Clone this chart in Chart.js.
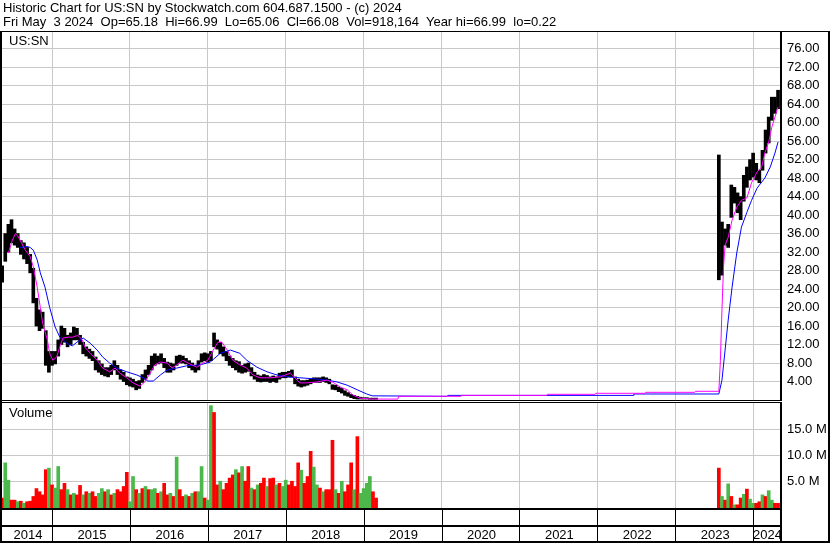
<!DOCTYPE html>
<html><head><meta charset="utf-8">
<script src="https://cdn.jsdelivr.net/npm/chart.js@4.4.1/dist/chart.umd.min.js"></script>
<style>
html,body{margin:0;padding:0;background:#fff;}
body{width:830px;height:543px;position:relative;overflow:hidden;font-family:"Liberation Sans",Arial,sans-serif;}
#hdr{position:absolute;left:3px;top:1px;font-size:13px;line-height:14px;white-space:pre;color:#000;}
#c1{position:absolute;left:0;top:0;}
#c2{position:absolute;left:0;top:400px;}
</style></head><body>
<canvas id="c1" width="830" height="402"></canvas>
<canvas id="c2" width="830" height="143"></canvas>
<div id="hdr">Historic Chart for US:SN by Stockwatch.com 604.687.1500 - (c) 2024
Fri May  3 2024  Op=65.18  Hi=66.99  Lo=65.06  Cl=66.08  Vol=918,164  Year hi=66.99  lo=0.22</div>
<script>
const FONT = '"Liberation Sans", Arial, sans-serif';
const symbol = 'US:SN';
const yearTicks = [2015, 2016, 2017, 2018, 2019, 2020, 2021, 2022, 2023, 2024];
const yearLabels = ['2014','2015','2016','2017','2018','2019','2020','2021','2022','2023','2024'];
const xMin = 2014.358, xMax = 2024.345;
const priceTicks = [4,8,12,16,20,24,28,32,36,40,44,48,52,56,60,64,68,72,76];
const volTicks = [5,10,15];

const priceDates = [
 2014.36,2014.40,2014.44,2014.48,2014.52,2014.56,2014.60,2014.64,2014.68,2014.72,
 2014.76,2014.80,2014.84,2014.88,2014.92,2014.96,2015.00,2015.04,2015.08,2015.12,
 2015.16,2015.20,2015.24,2015.28,2015.32,2015.36,2015.40,2015.44,2015.48,2015.52,
 2015.56,2015.60,2015.64,2015.68,2015.72,2015.76,2015.80,2015.84,2015.88,2015.92,
 2015.96,2016.00,2016.04,2016.08,2016.12,2016.16,2016.20,2016.24,2016.28,2016.32,
 2016.36,2016.40,2016.44,2016.48,2016.52,2016.56,2016.60,2016.64,2016.68,2016.72,
 2016.76,2016.80,2016.84,2016.88,2016.92,2016.96,2017.00,2017.04,2017.08,2017.12,
 2017.16,2017.20,2017.24,2017.28,2017.32,2017.36,2017.40,2017.44,2017.48,2017.52,
 2017.56,2017.60,2017.64,2017.68,2017.72,2017.76,2017.80,2017.84,2017.88,2017.92,
 2017.96,2018.00,2018.04,2018.08,2018.12,2018.16,2018.20,2018.24,2018.28,2018.32,
 2018.36,2018.40,2018.44,2018.48,2018.52,2018.56,2018.60,2018.64,2018.68,2018.72,
 2018.76,2018.80,2018.84,2018.88,2018.92,2018.96,2019.00,2019.04,2019.08,2019.12,
 2019.16,
 2023.56,2023.60,2023.64,2023.68,2023.72,2023.76,2023.80,2023.84,2023.88,2023.92,
 2023.96,2024.00,2024.04,2024.08,2024.12,2024.16,2024.20,2024.24,2024.28,2024.32];
const priceHigh = [
 29,36,38,39,37,36,34.5,34,33,31.5,
 28.5,22,19.5,19,15,10.5,10.5,10.5,13,16,
 15.5,14,14.5,15.8,15.5,14,12.5,11.5,11,10.5,
 9.3,8.5,7.8,7,7,7.5,8.5,7.5,6.5,6,
 5,4.8,4.5,4,4.2,5.5,6.5,7.5,9.5,10,
 9.5,10,9,8.2,8,7.8,9.5,9.7,9.5,9,
 8.5,8,7.5,8.5,10,10.2,10,10.5,14.5,13,
 12.5,11.5,10.5,9.5,9,8.5,8.3,7.5,7.8,8,
 7,6,5.4,5.2,5.5,5.3,5,5.2,5,5.8,
 6,6,6.2,6.5,5,4.5,4.2,4.2,4.3,4.5,
 4.8,4.8,4.8,5,4.8,4.5,3.3,3.2,2.8,2.5,
 2,1.6,1.2,1,0.8,0.6,0.5,0.5,0.4,0.4,
 0.4,
 53,38.5,37,38,46.5,46,44.8,44,48.6,50.4,
 52,53.4,51.2,49.7,54,58.4,61.2,65.5,65.5,67];
const priceLow = [
 25.5,30,32,34,33.5,33,31.5,30.5,29.5,27.5,
 21,16,15,15.5,7.5,6,7.5,7.8,9.5,12,
 12.5,11.5,12,13,13,12,10,9.5,9,8.5,
 6.5,6,5.5,5.2,5,5.5,6.5,5.5,4.5,4,
 3.3,3,2.8,2.2,2.5,3.8,4.5,5.5,6.5,7.5,
 7.8,8,7,6,6,6.5,7.5,8,8,7.8,
 7,6.5,6,6.5,8.2,8.5,8.2,8.5,11.5,11,
 10,9.5,8.5,7.5,7,6.5,6,5.8,6,6.2,
 5.2,4.5,4,3.9,4,4,3.8,4,3.8,4.5,
 4.8,4.8,5,5,3.5,3,2.8,3,3.2,3.5,
 3.8,3.8,3.8,4,3.8,3.5,2.3,2.2,1.8,1.5,
 1,0.8,0.5,0.3,0.2,0.2,0.2,0.2,0.15,0.15,
 0.15,
 26,27,33.5,33,39.5,42.6,40.5,39,43,46,
 47.6,48.2,47.6,47,49.7,53.4,55.6,60.5,62,63];

const maFastDates = [2014.44,2014.49,2014.53,2014.56,2014.59,2014.65,2014.72,2014.76,2014.81,2014.85,
 2014.88,2014.94,2014.97,2015.01,2015.06,2015.10,2015.14,2015.21,2015.27,2015.33,
 2015.39,2015.42,2015.49,2015.58,2015.65,2015.74,2015.81,2015.87,2015.96,2016.04,
 2016.13,2016.19,2016.26,2016.32,2016.39,2016.48,2016.54,2016.60,2016.68,2016.77,
 2016.86,2016.94,2017.00,2017.07,2017.13,2017.18,2017.25,2017.32,2017.41,2017.50,
 2017.58,2017.67,2017.80,2017.93,2018.06,2018.12,2018.18,2018.27,2018.40,2018.53,
 2018.61,2018.70,2018.79,2018.86,2018.95,2019.11,2019.44,2019.45,2020.24,2020.25,
 2021.35,2021.36,2021.97,2021.98,2022.61,2022.62,2023.25,2023.26,2023.56,2023.58,
 2023.60,2023.62,2023.64,2023.68,2023.73,2023.79,2023.85,2023.92,2023.98,2024.05,
 2024.11,2024.15,2024.20,2024.24,2024.28,2024.32];
const maFast = [31.8,34.5,36,35.5,34.6,32.6,31,28.8,24.4,20,
 16.6,13,10.1,8.6,9.3,11.5,13.4,13.6,13.6,14,
 13,11.5,10.1,8.6,6.9,6.1,6.9,5.8,4.8,3.7,
 3.0,3.9,5.8,7.6,8.2,8,6.9,7.6,8.6,7.8,
 7.1,8,8.6,10.8,12.5,12.5,10.8,8.6,7.6,6.9,
 5.4,4.8,4.8,5,5.8,4.8,3.7,3.7,3.9,4.3,
 3.8,2.8,2.2,1.1,0.4,0.2,0.2,0.8,0.8,1.0,
 1.0,1.23,1.23,1.45,1.45,1.66,1.66,1.88,1.88,8.6,
 19.5,28.8,33.5,35.2,38.9,41.7,43.2,43.7,47,49.3,
 50.4,53.4,55.8,59,61.2,63.4];

const maSlowDates = [2014.59,2014.68,2014.72,2014.76,2014.81,2014.85,2014.91,2014.97,2015.04,2015.10,
 2015.19,2015.26,2015.32,2015.40,2015.49,2015.58,2015.65,2015.74,2015.83,2015.96,
 2016.09,2016.17,2016.23,2016.30,2016.39,2016.48,2016.60,2016.73,2016.90,2017.03,
 2017.16,2017.29,2017.41,2017.50,2017.63,2017.76,2017.89,2018.02,2018.18,2018.35,
 2018.53,2018.66,2018.79,2018.92,2019.04,2019.11,2020.07,2020.08,2022.46,2022.47,
 2023.56,2023.60,2023.64,2023.68,2023.73,2023.79,2023.85,2023.92,2023.98,2024.05,
 2024.09,2024.15,2024.22,2024.28,2024.32];
const maSlow = [33,33.2,33,32.4,30.3,27.5,24.4,20,15.8,13.6,
 12.3,11.7,12.5,13.4,12.3,10.8,9.3,8,6.9,6.1,
 5.4,4.8,4.1,4.1,5.4,6.5,6.9,7.4,7.6,8.2,
 10.1,10.8,10.1,8.6,7.1,6.1,5.4,5,4.8,4.6,
 4.3,3.9,3.2,2.2,1.3,0.9,0.8,1.0,1.0,1.3,
 1.3,4.3,10.8,17.3,24.4,31.8,37.4,40.6,43.2,45.8,
 46.7,48,50.4,53.4,55.8];

const volDates = priceDates;
const volume = [
 1.9,8.6,5.3,1.5,1.5,1.2,1.3,0.9,1.2,1.3,
 2.2,3.7,3.1,2.5,7.3,7.6,4.4,3.8,7.9,3.5,
 4.7,3.5,2.5,2.8,2.5,4.3,2.5,3.1,2.8,3.1,
 2.2,2.8,3.7,3.1,3.5,2.5,2.8,3.5,3.1,4.1,
 6.8,1.2,6.0,3.5,2.8,3.7,4.1,3.5,3.5,3.7,
 2.8,3.1,4.7,2.5,2.8,2.2,9.7,3.5,2.2,2.5,
 2.2,2.8,3.1,3.1,7.9,1.9,1.5,19.5,18.2,4.4,
 5.1,3.5,4.7,5.7,6.3,7.3,6.7,7.9,5.1,7.9,
 3.8,3.5,4.4,4.7,5.7,4.1,5.6,5.7,4.4,4.7,
 4.1,5.3,4.4,5.1,4.1,8.6,7.2,4.7,6.0,10.8,
 7.8,4.4,3.8,3.1,3.5,3.5,12.9,3.5,2.8,5.1,
 3.1,4.4,8.6,3.5,13.6,2.8,3.7,4.7,6.0,3.1,
 1.9,
 7.6,2.2,1.5,4.6,2.2,0.6,0.6,1.9,2.6,3.6,
 1.7,0.9,0.9,1.2,2.5,2.2,3.3,1.5,0.9,0.9];
// 1 = up week (green), 0 = down week (red)
const volUp = [
 0,1,1,0,0,1,0,1,0,0,
 0,0,0,0,0,1,0,1,1,0,
 0,1,0,1,0,0,1,0,1,0,
 0,1,1,0,1,0,1,0,0,0,
 0,1,1,0,1,0,1,0,1,1,
 0,1,0,0,1,0,1,0,0,1,
 0,1,0,1,1,0,1,1,0,0,
 1,0,0,0,0,1,0,1,0,0,
 1,0,1,0,0,1,0,0,1,0,
 1,1,0,0,0,0,1,0,0,0,
 1,1,0,1,0,0,0,1,0,1,
 0,0,0,1,0,1,1,1,1,0,
 0,
 0,1,0,1,0,1,0,0,1,0,
 1,1,0,0,1,0,1,1,0,0];

const GRID = '#c8c8c8';
const RED = '#ff0000', GREEN = '#4cb84c';

const xScaleBase = {
  type: 'linear', min: xMin, max: xMax, offset: false,
  afterBuildTicks: s => { s.ticks = yearTicks.map(v => ({value: v})); },
  ticks: {display: false},
  grid: {color: GRID, drawTicks: false, offset: false},
  border: {display: false}
};

function yAxisFit(s) { s.width = 50; s.paddingTop = 0; s.paddingBottom = 0; }

const frame1 = {
  id: 'frame1',
  afterDraw(chart) {
    const {ctx, chartArea: ca} = chart;
    ctx.save();
    ctx.fillStyle = '#000';
    ctx.fillRect(0, ca.top - 1, chart.width, 1);
    ctx.fillRect(0, ca.top - 1, 2, ca.bottom - ca.top + 2);
    ctx.fillRect(ca.right, ca.top - 1, 2, ca.bottom - ca.top + 2);
    ctx.fillRect(chart.width - 2, ca.top - 1, 2, chart.height);
    ctx.fillRect(0, ca.bottom, ca.right + 2, 1);
    ctx.font = '13px ' + FONT;
    ctx.textBaseline = 'middle';
    ctx.fillText(symbol, ca.left + 7, ca.top + 9);
    ctx.restore();
  }
};

const frame2 = {
  id: 'frame2',
  afterDraw(chart) {
    const {ctx, chartArea: ca, scales: {x}} = chart;
    const h = chart.height;
    ctx.save();
    ctx.fillStyle = '#000';
    ctx.fillRect(0, ca.top - 1, ca.right + 2, 1);
    ctx.fillRect(0, 0, 2, h);
    ctx.fillRect(ca.right, ca.top - 1, 2, h);
    ctx.fillRect(chart.width - 2, 0, 2, h);
    ctx.fillRect(0, ca.bottom, ca.right + 2, 2);
    ctx.fillRect(0, ca.bottom + 17, ca.right + 2, 2);
    ctx.fillRect(0, h - 2, chart.width, 2);
    yearTicks.forEach(v => {
      const px = Math.round(x.getPixelForValue(v));
      ctx.fillRect(px, ca.bottom, 1, h - ca.bottom);
    });
    ctx.font = '13px ' + FONT;
    ctx.textAlign = 'center';
    ctx.textBaseline = 'middle';
    const bounds = [x.min, ...yearTicks, x.max];
    yearLabels.forEach((lab, i) => {
      const a = x.getPixelForValue(bounds[i]), b = x.getPixelForValue(bounds[i + 1]);
      ctx.fillText(lab, (a + b) / 2 + 1, ca.bottom + 27);
    });
    ctx.textAlign = 'left';
    ctx.fillText('Volume', ca.left + 7, ca.top + 10);
    ctx.restore();
  }
};

new Chart(document.getElementById('c1'), {
  type: 'bar',
  data: { datasets: [
    { type: 'line', label: 'MA fast', data: maFastDates.map((d, i) => ({x: d, y: maFast[i]})),
      borderColor: '#ff00ff', borderWidth: 1, pointRadius: 0, tension: 0, order: 1 },
    { type: 'line', label: 'MA slow', data: maSlowDates.map((d, i) => ({x: d, y: maSlow[i]})),
      borderColor: '#0000ff', borderWidth: 1, pointRadius: 0, tension: 0, order: 2 },
    { type: 'bar', label: 'Price', data: priceDates.map((d, i) => ({x: d, y: [priceLow[i], priceHigh[i]]})),
      backgroundColor: '#000', barThickness: 3, grouped: false, order: 3 }
  ]},
  options: {
    responsive: false, animation: false, devicePixelRatio: 1,
    layout: {padding: {left: 2, top: 32, right: 0, bottom: 2}},
    plugins: {legend: {display: false}, tooltip: {enabled: false}},
    scales: {
      x: Object.assign({}, xScaleBase, {afterFit: s => { s.height = 0; }}),
      y: {
        position: 'right', min: 0, max: 79.6,
        afterBuildTicks: s => { s.ticks = priceTicks.map(v => ({value: v})); },
        afterFit: yAxisFit,
        ticks: {callback: v => v.toFixed(2), color: '#000', font: {family: FONT, size: 13}, padding: 7},
        grid: {color: GRID, drawTicks: false},
        border: {display: false}
      }
    }
  },
  plugins: [frame1]
});

new Chart(document.getElementById('c2'), {
  type: 'bar',
  data: { datasets: [
    { label: 'Volume', data: volDates.map((d, i) => ({x: d, y: volume[i]})),
      backgroundColor: volUp.map(u => u ? GREEN : RED), barThickness: 3, grouped: false }
  ]},
  options: {
    responsive: false, animation: false, devicePixelRatio: 1,
    layout: {padding: {left: 2, top: 3, right: 0, bottom: 0}},
    plugins: {legend: {display: false}, tooltip: {enabled: false}},
    scales: {
      x: Object.assign({}, xScaleBase, {afterFit: s => { s.height = 35; }}),
      y: {
        position: 'right', min: 0, max: 20,
        afterBuildTicks: s => { s.ticks = volTicks.map(v => ({value: v})); },
        afterFit: yAxisFit,
        ticks: {callback: v => v.toFixed(1) + ' M', color: '#000', font: {family: FONT, size: 13}, padding: 7},
        grid: {color: GRID, drawTicks: false},
        border: {display: false}
      }
    }
  },
  plugins: [frame2]
});
</script>
</body></html>
